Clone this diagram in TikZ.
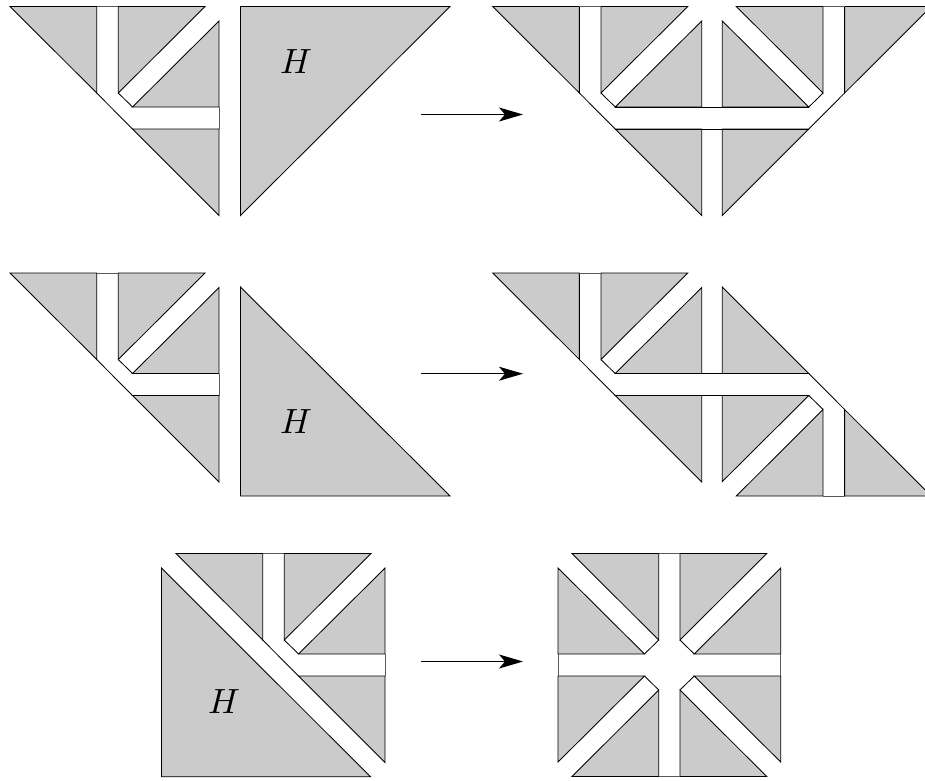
\documentclass[tikz,border=0pt]{standalone}
\usetikzlibrary{arrows.meta}
\definecolor{tile}{gray}{0.795}
\tikzset{
  tilefill/.style={fill=tile,draw=black,line width=0.85pt,line join=miter},
  edgeline/.style={draw=black,line width=0.85pt},
  capline/.style={draw=black!65,line width=0.6pt},
  maparrow/.style={draw=black,line width=1pt,-{Stealth[length=24pt,width=14pt,inset=6pt]}},
  hlabel/.style={inner sep=0pt,scale=3.5},
}
% upper right half of a corner: two triangles and the chamfer
\newcommand{\quartertiles}{%
  \path[tilefill] (118.3,6.5) -- (205,6.5) -- (118.3,93) -- cycle;
  \path[tilefill] (219,21) -- (219,107) -- (132.5,107) -- cycle;
  \draw[edgeline] (118.3,93) -- (132.5,107);
}
% remaining two triangles and the outer diagonal
\newcommand{\outertiles}{%
  \path[tilefill] (10,6.5) -- (96.7,6.5) -- (96.7,93) -- cycle;
  \path[tilefill] (132.5,129) -- (219,129) -- (219,215.5) -- cycle;
  \draw[edgeline] (96.7,93) -- (132.5,129);
}
\newcommand{\topcap}{\draw[capline] (96.7,6.5) -- (118.3,6.5);}
\newcommand{\rightcap}{\draw[capline] (219,107) -- (219,129);}
\begin{document}
\begin{tikzpicture}[x=1pt,y=-1pt]
\clip (0,0) rectangle (925,780);
\useasboundingbox (0,0) rectangle (925,780);
\fill[white] (0,0) rectangle (925,780);

% ---- row 1
\begin{scope}
  \quartertiles \outertiles \topcap \rightcap
\end{scope}
\path[tilefill] (240.5,6.5) -- (450,6.5) -- (240.5,215.5) -- cycle;
\node[hlabel] (h1) at (296,62) {$H$};
\coordinate (a1s) at (420.7,114.5);
\coordinate (a1e) at (523,114.5);
\draw[maparrow] (a1s) -- (a1e);
\begin{scope}[shift={(482.7,0)}]
  \quartertiles \outertiles \topcap
\end{scope}
\begin{scope}[shift={(941.3,0)},xscale=-1]
  \quartertiles \outertiles \topcap
\end{scope}
\draw[edgeline] (615.2,107) -- (808.8,107);
\draw[edgeline] (615.2,129) -- (808.8,129);

% ---- row 2
\begin{scope}[shift={(0,266.5)}]
  \quartertiles \outertiles \topcap \rightcap
\end{scope}
\path[tilefill] (240.5,287) -- (240.5,496) -- (450,496) -- cycle;
\node[hlabel] (h2) at (296,422) {$H$};
\coordinate (a2s) at (420.7,373.7);
\coordinate (a2e) at (523,373.7);
\draw[maparrow] (a2s) -- (a2e);
\begin{scope}[shift={(482.7,266.5)}]
  \quartertiles \outertiles \topcap
\end{scope}
\begin{scope}[shift={(941.3,502.5)},xscale=-1,yscale=-1]
  \quartertiles \outertiles \topcap
\end{scope}
\draw[edgeline] (615.2,373.5) -- (808.8,373.5);
\draw[edgeline] (615.2,395.5) -- (808.8,395.5);

% ---- row 3
\begin{scope}[shift={(166,547)}]
  \quartertiles \outertiles \topcap \rightcap
\end{scope}
\path[tilefill] (161.5,568) -- (161.5,776.8) -- (370.5,776.8) -- cycle;
\node[hlabel] (h3) at (224,702) {$H$};
\coordinate (a3s) at (420.7,661.5);
\coordinate (a3e) at (523,661.5);
\draw[maparrow] (a3s) -- (a3e);
\begin{scope}[shift={(561.7,547)}]
  \quartertiles \topcap \rightcap
\end{scope}
\begin{scope}[shift={(777,547)},xscale=-1]
  \quartertiles \topcap \rightcap
\end{scope}
\begin{scope}[shift={(561.7,783)},yscale=-1]
  \quartertiles \topcap \rightcap
\end{scope}
\begin{scope}[shift={(777,783)},xscale=-1,yscale=-1]
  \quartertiles \topcap \rightcap
\end{scope}
\end{tikzpicture}
\end{document}
